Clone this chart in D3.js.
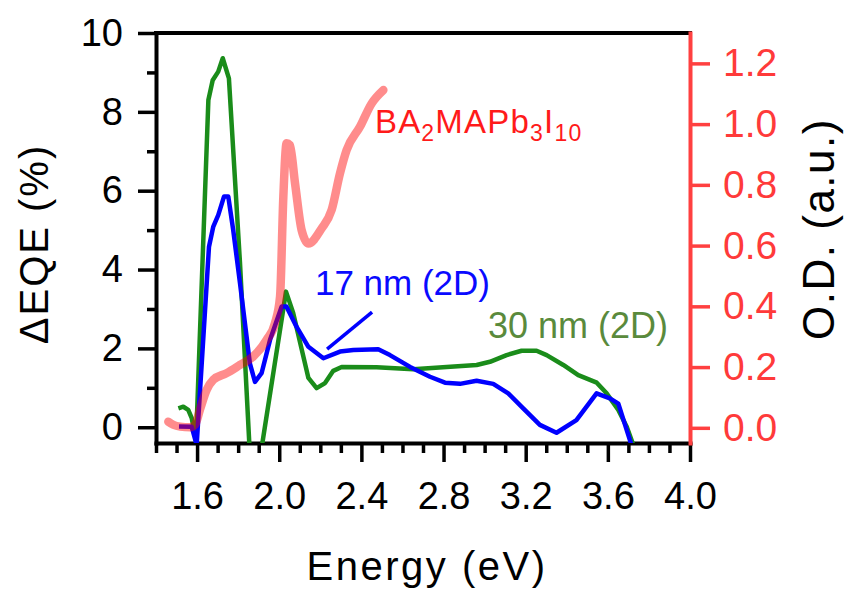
<!DOCTYPE html>
<html>
<head>
<meta charset="utf-8">
<script src="https://cdn.jsdelivr.net/npm/d3@7"></script>
<style>
  html, body { margin: 0; padding: 0; background: #fff; }
  svg { display: block; font-family: "Liberation Sans", Arial, sans-serif; }
</style>
</head>
<body>
<script>
// ---------- data ----------
const energyBlue = [1.512, 1.574, 1.598, 1.658, 1.679, 1.703, 1.731, 1.752, 1.776, 1.809, 1.857, 1.882, 1.914, 1.955, 2.012, 2.035, 2.084, 2.142, 2.215, 2.296, 2.361, 2.482, 2.539, 2.637, 2.734, 2.807, 2.88, 2.961, 3.042, 3.115, 3.188, 3.269, 3.35, 3.447, 3.545, 3.61, 3.651, 3.715];
const eqeBlue    = [0.02, 0.01, -0.45, 4.58, 5.09, 5.38, 5.85, 5.85, 5.0, 3.65, 1.62, 1.15, 1.37, 2.21, 3.06, 3.06, 2.55, 2.04, 1.75, 1.92, 1.96, 1.98, 1.83, 1.53, 1.28, 1.13, 1.10, 1.18, 1.10, 0.86, 0.48, 0.06, -0.14, 0.18, 0.86, 0.73, 0.6, -0.45];

const energyGreen = [1.509, 1.533, 1.557, 1.574, 1.595, 1.655, 1.676, 1.703, 1.725, 1.755, 1.809, 1.87, 2.033, 2.068, 2.142, 2.182, 2.223, 2.263, 2.304, 2.474, 2.653, 2.815, 2.961, 3.026, 3.107, 3.18, 3.253, 3.302, 3.383, 3.456, 3.546, 3.594, 3.651, 3.692, 3.724];
const eqeGreen    = [0.48, 0.52, 0.44, 0.23, -0.35, 8.3, 8.8, 9.02, 9.36, 8.85, 4.16, -2.0, 3.44, 2.9, 1.25, 0.99, 1.12, 1.43, 1.53, 1.52, 1.47, 1.53, 1.58, 1.66, 1.83, 1.94, 1.94, 1.83, 1.58, 1.32, 1.13, 0.86, 0.44, 0.01, -0.45];

const energyAbs = [1.46, 1.484, 1.517, 1.566, 1.59, 1.614, 1.647, 1.679, 1.744, 1.809, 1.874, 1.939, 1.979, 2.004, 2.02, 2.036, 2.052, 2.077, 2.109, 2.142, 2.207, 2.255, 2.296, 2.328, 2.393, 2.45, 2.507];
const odAbs     = [0.02, 0.01, 0.004, 0.002, 0.01, 0.06, 0.125, 0.158, 0.18, 0.207, 0.235, 0.29, 0.344, 0.432, 0.761, 0.937, 0.931, 0.805, 0.651, 0.607, 0.657, 0.717, 0.838, 0.914, 0.991, 1.068, 1.112];

const xMajorTicks = [1.6, 2.0, 2.4, 2.8, 3.2, 3.6, 4.0];
const xMinorTicks = [1.4, 1.5, 1.7, 1.8, 1.9, 2.1, 2.2, 2.3, 2.5, 2.6, 2.7, 2.9, 3.0, 3.1, 3.3, 3.4, 3.5, 3.7, 3.8, 3.9];
const yLeftMajorTicks = [0, 2, 4, 6, 8, 10];
const yLeftMinorTicks = [1, 3, 5, 7, 9];
const yRightTicks = [0.0, 0.2, 0.4, 0.6, 0.8, 1.0, 1.2];

const labelAbs = { e: 2.466, v: 7.46 };
const label17 = { e: 2.174, v: 3.35, text: "17 nm (2D)" };
const label30 = { e: 3.016, v: 2.26, text: "30 nm (2D)" };
const pointer17 = [[2.233, 1.98], [2.452, 2.92]];

// ---------- layout ----------
const W = 845, H = 594;
const L = 156, R = 690, T = 33, B = 443;

const svg = d3.select("body").append("svg").attr("width", W).attr("height", H);

const x  = d3.scaleLinear().domain([1.4, 4.0]).range([L, R]);
const yL = d3.scaleLinear().domain([-0.4, 10]).range([B, T]);
const yR = d3.scaleLinear().domain([-0.05, 1.3]).range([B, T]);

svg.append("defs").append("clipPath").attr("id", "plot")
  .append("rect").attr("x", L).attr("y", T).attr("width", R - L).attr("height", B - T);

const BLACK = "#000";
const REDAX = "#ff4040";
const AXW = 4;
const FONT = '"Liberation Sans", Arial, sans-serif';

function styleAxis(g, color, fs) {
  g.selectAll(".domain").attr("stroke", color).attr("stroke-width", AXW).attr("stroke-linecap", "square");
  g.selectAll(".tick line").attr("stroke", color).attr("stroke-width", 3.5);
  g.selectAll(".tick text").attr("fill", color).attr("font-size", fs).attr("font-family", FONT);
}

// top frame line
svg.append("line").attr("x1", L).attr("x2", R).attr("y1", T).attr("y2", T)
  .attr("stroke", BLACK).attr("stroke-width", AXW).attr("stroke-linecap", "square");

// bottom axis
const gxMinor = svg.append("g").attr("transform", `translate(0,${B})`)
  .call(d3.axisBottom(x).tickValues(xMinorTicks).tickSize(10).tickSizeOuter(0).tickFormat(""));
gxMinor.select(".domain").remove();
styleAxis(gxMinor, BLACK, 38);
const gx = svg.append("g").attr("transform", `translate(0,${B})`)
  .call(d3.axisBottom(x).tickValues(xMajorTicks).tickSize(19).tickSizeOuter(0).tickPadding(20).tickFormat(d3.format(".1f")));
styleAxis(gx, BLACK, 38);

// left axis
const gyMinor = svg.append("g").attr("transform", `translate(${L},0)`)
  .call(d3.axisLeft(yL).tickValues(yLeftMinorTicks).tickSize(9).tickSizeOuter(0).tickFormat(""));
gyMinor.select(".domain").remove();
styleAxis(gyMinor, BLACK, 38);
const gy = svg.append("g").attr("transform", `translate(${L},0)`)
  .call(d3.axisLeft(yL).tickValues(yLeftMajorTicks).tickSize(18).tickSizeOuter(0).tickPadding(15).tickFormat(d3.format("d")));
styleAxis(gy, BLACK, 38);

// right axis
const gr = svg.append("g").attr("transform", `translate(${R},0)`)
  .call(d3.axisRight(yR).tickValues(yRightTicks).tickSize(20).tickSizeOuter(0).tickPadding(13).tickFormat(d3.format(".1f")));
styleAxis(gr, REDAX, 39);
gr.selectAll(".tick text").attr("fill", "#ff3a3a");

// ---------- lines ----------
const plot = svg.append("g").attr("clip-path", "url(#plot)");

const lineL = d3.line().x(d => x(d[0])).y(d => yL(d[1]));
const lineR = d3.line().x(d => x(d[0])).y(d => yR(d[1])).curve(d3.curveMonotoneX);

plot.append("path").datum(d3.zip(energyGreen, eqeGreen)).attr("d", lineL)
  .attr("fill", "none").attr("stroke", "#1a8c1a").attr("stroke-width", 4.5).attr("stroke-linejoin", "round");
plot.append("path").datum(d3.zip(energyBlue, eqeBlue)).attr("d", lineL)
  .attr("fill", "none").attr("stroke", "#0000ff").attr("stroke-width", 4.5).attr("stroke-linejoin", "round");
plot.append("path").datum(d3.zip(energyAbs, odAbs)).attr("d", lineR)
  .attr("fill", "none").attr("stroke", "#ff0000").attr("stroke-opacity", 0.45)
  .attr("stroke-width", 8.5).attr("stroke-linecap", "round").attr("stroke-linejoin", "round");

// pointer
svg.append("path").datum(pointer17).attr("d", lineL)
  .attr("fill", "none").attr("stroke", "#0000ff").attr("stroke-width", 3.5);

// ---------- annotations ----------
const tAbs = svg.append("text").attr("x", x(labelAbs.e)).attr("y", yL(labelAbs.v))
  .attr("fill", "#ff1a1a").attr("font-size", 33).attr("font-family", FONT).attr("letter-spacing", 1.2);
const parts = [["BA", 0], ["2", 1], ["MAPb", 0], ["3", 1], ["I", 0], ["10", 1]];
parts.forEach(([t, sub]) => {
  tAbs.append("tspan").text(t)
    .attr("font-size", sub ? 23 : 33)
    .attr("baseline-shift", sub ? "-8" : null);
});

svg.append("text").attr("x", x(label17.e)).attr("y", yL(label17.v))
  .attr("fill", "#0a0aff").attr("font-size", 35).attr("font-family", FONT).text(label17.text);
svg.append("text").attr("x", x(label30.e)).attr("y", yL(label30.v))
  .attr("fill", "#5a8a3c").attr("font-size", 36).attr("font-family", FONT).text(label30.text);

// ---------- axis titles ----------
svg.append("text").attr("x", 427).attr("y", 580).attr("text-anchor", "middle")
  .attr("font-size", 40).attr("letter-spacing", 2.5).attr("font-family", FONT).attr("fill", BLACK)
  .text("Energy (eV)");
svg.append("text").attr("transform", "translate(48,244) rotate(-90)").attr("text-anchor", "middle")
  .attr("font-size", 40).attr("letter-spacing", 2).attr("font-family", FONT).attr("fill", BLACK)
  .text("ΔEQE (%)");
svg.append("text").attr("transform", "translate(834,229) rotate(-90)").attr("text-anchor", "middle")
  .attr("font-size", 44).attr("letter-spacing", 1.5).attr("font-family", FONT).attr("fill", BLACK)
  .text("O.D. (a.u.)");
</script>
</body>
</html>
